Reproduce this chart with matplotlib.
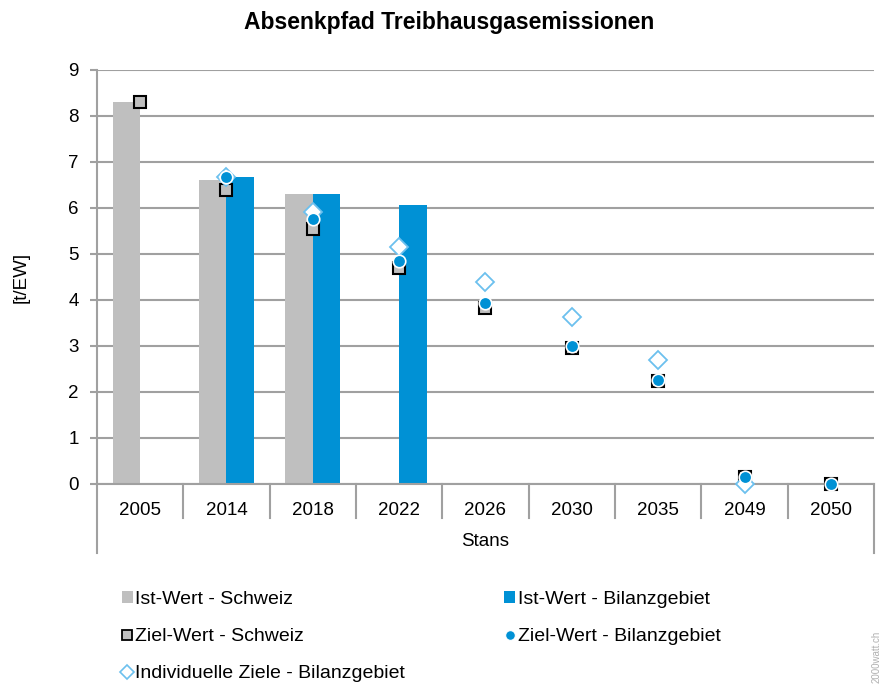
import numpy as np
import matplotlib
matplotlib.use("Agg")
import matplotlib.pyplot as plt
from matplotlib.patches import Patch
from matplotlib.lines import Line2D

# data
years = ["2005", "2014", "2018", "2022", "2026", "2030", "2035", "2049", "2050"]
ist_schweiz = [8.30, 6.61, 6.30, np.nan, np.nan, np.nan, np.nan, np.nan, np.nan]
ist_bilanz = [np.nan, 6.67, 6.30, 6.07, np.nan, np.nan, np.nan, np.nan, np.nan]
ziel_schweiz = [8.30, 6.39, 5.54, 4.69, 3.82, 2.96, 2.24, 0.16, 0.0]
ziel_bilanz = [np.nan, 6.67, 5.76, 4.85, 3.94, 3.01, 2.26, 0.15, 0.0]
indiv_ziele = [np.nan, 6.68, 5.92, 5.16, 4.40, 3.63, 2.69, 0.0, np.nan]

GREY = "#BFBFBF"
BLUE = "#0091D5"
LIGHTBLUE = "#6CC0EE"
LINE = "#A0A0A0"
FS = 13.5

plt.rcParams['font.family'] = ['Liberation Sans', 'DejaVu Sans']

fig = plt.figure(figsize=(8.84, 6.84), dpi=100)
ax = fig.add_axes([0.1097, 0.2924, 0.8790, 0.6053])

x = np.arange(len(years))
w = 0.32
ax.bar(x - w / 2, ist_schweiz, w, color=GREY, zorder=2)
ax.bar(x + w / 2, ist_bilanz, w, color=BLUE, zorder=2)

ax.plot(x, ziel_schweiz, ls='none', marker='s', ms=8, mfc=GREY, mec='black', mew=1.5,
        zorder=3, clip_on=False)
ax.plot(x, indiv_ziele, ls='none', marker='D', ms=9, mfc='white', mec=LIGHTBLUE, mew=1.3,
        zorder=4, clip_on=False)
ax.plot(x, ziel_bilanz, ls='none', marker='o', ms=9, mfc=BLUE, mec='white', mew=1.2,
        zorder=5, clip_on=False)

ax.set_xlim(-0.5, len(years) - 0.5)
ax.set_ylim(0, 9)
ax.set_yticks(range(10))
ax.yaxis.grid(True, color=LINE, lw=1.5, zorder=0)
ax.set_axisbelow(True)
for s in ['top', 'right']:
    ax.spines[s].set_visible(False)
ax.spines['left'].set_color(LINE)
ax.spines['left'].set_linewidth(1.5)
ax.spines['bottom'].set_color(LINE)
ax.spines['bottom'].set_linewidth(1.5)
ax.tick_params(axis='y', length=5, color=LINE, width=1.5, labelsize=FS, pad=8)
ax.tick_params(axis='x', length=0, labelsize=FS, pad=13)
ax.set_xticks(x)
ax.set_xticklabels(years)

# excel style category separators and multi-level axis
trans = ax.get_xaxis_transform()
for b in np.arange(0.5, len(years) - 1, 1.0):
    ax.plot([b, b], [0, -0.082], transform=trans, color=LINE, lw=1.5, clip_on=False)
for b in [-0.5, len(years) - 0.5]:
    ax.plot([b, b], [0, -0.167], transform=trans, color=LINE, lw=1.5, clip_on=False)
ax.text(0.5, -0.138, "Stans", transform=ax.transAxes, ha='center', va='center', fontsize=FS)

ax.set_ylabel("[t/EW]", fontsize=FS, labelpad=28)
fig.text(0.508, 0.967, "Absenkpfad Treibhausgasemissionen", ha='center', va='center',
         fontsize=16.5, fontweight='bold')

handles = [
    Patch(facecolor=GREY, edgecolor='none'),
    Line2D([], [], ls='none', marker='s', ms=7, mfc=GREY, mec='black', mew=1.3),
    Line2D([], [], ls='none', marker='D', ms=7, mfc='white', mec=LIGHTBLUE, mew=1.2),
    Patch(facecolor=BLUE, edgecolor='none'),
    Line2D([], [], ls='none', marker='o', ms=7, mfc=BLUE, mec='white', mew=0.8),
]
labels = ["Ist-Wert - Schweiz", "Ziel-Wert - Schweiz", "Individuelle Ziele - Bilanzgebiet",
          "Ist-Wert - Bilanzgebiet", "Ziel-Wert - Bilanzgebiet"]
fig.legend(handles, labels, ncol=2, loc='upper left', bbox_to_anchor=(0.129, 0.148),
           frameon=False, fontsize=14, handlelength=0.55, handleheight=0.55,
           handletextpad=0.15, labelspacing=1.05, columnspacing=5.1, borderaxespad=0)

fig.text(0.992, 0.04, "2000watt.ch", rotation=90, ha='center', va='center',
         fontsize=7, color='#B0B0B0')

fig.savefig("out.png", dpi=100)
